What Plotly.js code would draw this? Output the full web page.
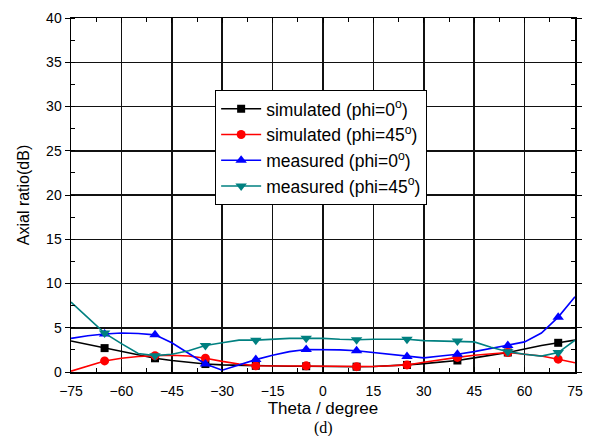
<!DOCTYPE html>
<html>
<head>
<meta charset="utf-8">
<script src="https://cdn.plot.ly/plotly-3.0.1.min.js"></script>
<style>html,body{margin:0;padding:0;background:#fff;}#chart{width:608px;height:436px;}</style>
</head>
<body>
<div id="chart"></div>
<script>
// Theta (degree), sampled every 5 degrees
const theta = [-75,-70,-65,-60,-55,-50,-45,-40,-35,-30,-25,-20,-15,-10,-5,0,5,10,15,20,25,30,35,40,45,50,55,60,65,70,75];
// Angles where symbols are drawn
const markerTheta = [-65,-50,-35,-20,-5,10,25,40,55,70];

const simPhi0 = [3.5,3.1,2.7,2.3,1.9,1.55,1.3,1.1,0.9,0.8,0.75,0.7,0.68,0.65,0.65,0.62,0.6,0.6,0.62,0.7,0.8,0.95,1.1,1.3,1.6,1.9,2.2,2.6,3.0,3.3,3.6];
const simPhi45 = [0.1,0.7,1.25,1.55,1.75,1.85,1.9,1.8,1.55,1.2,0.9,0.7,0.68,0.7,0.7,0.65,0.62,0.6,0.62,0.7,0.8,1.1,1.4,1.65,1.9,2.05,2.2,2.0,1.8,1.45,1.05];
const measPhi0 = [3.8,4.1,4.3,4.4,4.35,4.2,3.3,2.1,0.9,0.2,0.8,1.4,1.9,2.3,2.55,2.55,2.5,2.4,2.2,1.95,1.75,1.6,1.8,2.0,2.3,2.65,3.0,3.4,4.4,6.2,8.5];
const measPhi45 = [7.9,6.1,4.4,3.2,2.1,1.85,2.0,2.4,3.0,3.3,3.6,3.6,3.7,3.8,3.8,3.8,3.7,3.65,3.7,3.7,3.7,3.55,3.5,3.5,3.4,2.8,2.3,2.0,1.8,2.2,3.6];

const seriesNames = ['simulated (phi=0<sup>o</sup>)','simulated (phi=45<sup>o</sup>)','measured (phi=0<sup>o</sup>)','measured (phi=45<sup>o</sup>)'];

const series = [
  {y: simPhi0, color: '#000000', symbol: 'square', size: 8},
  {y: simPhi45, color: '#ff0000', symbol: 'circle', size: 9},
  {y: measPhi0, color: '#0000ff', symbol: 'triangle-up', size: 10},
  {y: measPhi45, color: '#008080', symbol: 'triangle-down', size: 10}
];

const traces = [];
series.forEach((s, i) => {
  traces.push({
    x: theta, y: s.y, type: 'scatter', mode: 'lines',
    line: {color: s.color, width: 1.6},
    showlegend: false, hoverinfo: 'skip'
  });
  const mx = [], my = [];
  theta.forEach((t, k) => { if (markerTheta.includes(t)) { mx.push(t); my.push(s.y[k]); } });
  traces.push({
    x: mx, y: my, type: 'scatter', mode: 'markers',
    marker: {color: s.color, symbol: s.symbol, size: s.size},
    showlegend: false
  });
});
// legend entries
series.forEach((s, i) => {
  traces.push({
    x: [null], y: [null], type: 'scatter', mode: 'lines+markers',
    name: seriesNames[i],
    line: {color: s.color, width: 1.6},
    marker: {color: s.color, symbol: s.symbol, size: s.size}
  });
});

const font = 'Liberation Sans, Arial, sans-serif';
const layout = {
  width: 608, height: 436,
  margin: {l: 71, r: 33, t: 18, b: 64},
  paper_bgcolor: '#fff', plot_bgcolor: '#fff',
  font: {family: font, color: '#000', size: 14},
  xaxis: {
    range: [-75, 75], tick0: -75, dtick: 15, tickmode: 'linear',
    showgrid: true, gridcolor: '#111', gridwidth: 1.5,
    showline: true, linecolor: '#000', linewidth: 1.5, mirror: 'ticks',
    ticks: 'inside', ticklen: 5, tickcolor: '#000',
    minor: {dtick: 7.5, tick0: -75, ticks: 'inside', ticklen: 4, tickcolor: '#000', showgrid: false},
    zeroline: false,
    tickfont: {size: 14},
    ticklabelstandoff: 6,
    title: {text: 'Theta / degree', font: {size: 17}, standoff: 0}
  },
  yaxis: {
    range: [0, 40], tick0: 0, dtick: 5, tickmode: 'linear',
    showgrid: true, gridcolor: '#111', gridwidth: 1.5,
    showline: true, linecolor: '#000', linewidth: 1.5, mirror: 'ticks',
    ticks: 'outside', ticklen: 5, tickcolor: '#000',
    minor: {dtick: 2.5, tick0: 0, ticks: 'inside', ticklen: 4, tickcolor: '#000', showgrid: false},
    zeroline: false,
    tickfont: {size: 14},
    title: {text: 'Axial ratio(dB)', font: {size: 16}, standoff: 12}
  },
  legend: {
    x: 0.286, y: 0.797, xanchor: 'left', yanchor: 'top',
    bgcolor: '#fff', bordercolor: '#000', borderwidth: 1,
    font: {size: 17.5, family: font}, tracegroupgap: 0,
    itemwidth: 40
  },
  annotations: [{
    text: '(d)', xref: 'paper', yref: 'paper', x: 0.5, y: 0, yshift: -45,
    xanchor: 'center', yanchor: 'top', showarrow: false,
    font: {family: 'Liberation Serif, Times New Roman, serif', size: 16}
  }]
};

Plotly.newPlot('chart', traces, layout, {displayModeBar: false, staticPlot: true});
</script>
</body>
</html>
